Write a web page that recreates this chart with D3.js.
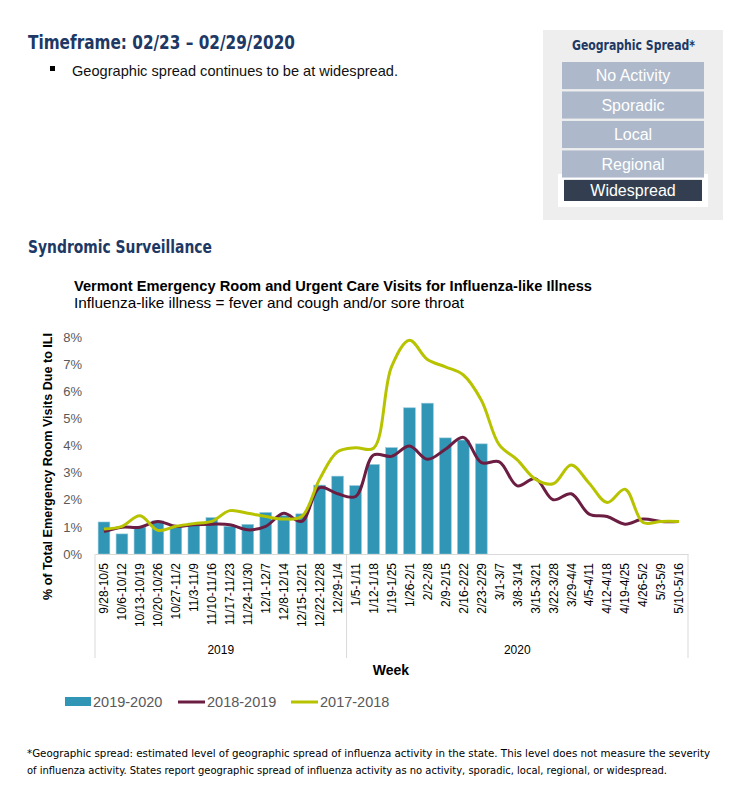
<!DOCTYPE html>
<html lang="en">
<head>
    <meta charset="UTF-8">
    <title>Vermont ILI Visits</title>
    <script src="https://d3js.org/d3.v7.min.js"></script>
    <style>
        body { margin: 0; background: #fff; }
        svg text { font-family: "Liberation Sans", Arial, sans-serif; }
        .cond { font-family: "Liberation Sans Narrow", "DejaVu Sans Condensed", "Liberation Sans", sans-serif; font-stretch: condensed; }
        .navy { fill: #203864; font-weight: bold; }
    </style>
</head>
<body>
    <div id="chart"></div>
    <script type="text/javascript">
        // week categories on the x axis
        const weeks = ["9/28-10/5", "10/6-10/12", "10/13-10/19", "10/20-10/26", "10/27-11/2", "11/3-11/9",
            "11/10-11/16", "11/17-11/23", "11/24-11/30", "12/1-12/7", "12/8-12/14", "12/15-12/21",
            "12/22-12/28", "12/29-1/4", "1/5-1/11", "1/12-1/18", "1/19-1/25", "1/26-2/1", "2/2-2/8",
            "2/9-2/15", "2/16-2/22", "2/23-2/29", "3/1-3/7", "3/8-3/14", "3/15-3/21", "3/22-3/28",
            "3/29-4/4", "4/5-4/11", "4/12-4/18", "4/19-4/25", "4/26-5/2", "5/3-5/9", "5/10-5/16"];
        const yearLabels = ["2019", "2020"];
        const yearWeekCounts = [14, 19];

        // % of visits due to ILI
        const season2019_2020 = [1.18, 0.74, 0.99, 1.22, 1.05, 1.14, 1.34, 1.02, 1.09, 1.53, 1.41, 1.48,
            2.54, 2.87, 2.52, 3.30, 3.92, 5.39, 5.56, 4.28, 4.20, 4.06];
        const season2018_2019 = [0.83, 0.99, 0.99, 1.20, 1.02, 1.08, 1.10, 1.08, 0.89, 1.02, 1.50, 1.20,
            2.45, 2.22, 2.12, 3.65, 3.60, 3.98, 3.49, 3.86, 4.30, 3.37, 3.40, 2.51, 2.78, 2.00, 2.22,
            1.47, 1.38, 1.10, 1.29, 1.20, 1.20];
        const season2017_2018 = [0.92, 1.02, 1.41, 0.87, 1.02, 1.12, 1.20, 1.60, 1.50, 1.38, 1.29, 1.38,
            2.76, 3.77, 3.92, 3.90, 6.90, 7.88, 7.17, 6.90, 6.60, 5.67, 4.02, 3.47, 2.76, 2.59, 3.28,
            2.61, 1.90, 2.39, 1.16, 1.20, 1.20];
        const yTicks = [0, 1, 2, 3, 4, 5, 6, 7, 8];

        const spreadLevels = ["No Activity", "Sporadic", "Local", "Regional", "Widespread"];
        const currentLevel = "Widespread";

        const barColor = "#3196b6", maroon = "#6b1d42", lime = "#b8c300";

        const svg = d3.select("#chart").append("svg")
            .attr("width", 736)
            .attr("height", 796);

        // header
        svg.append("text").attr("class", "cond navy")
            .attr("x", 28).attr("y", 49).style("font-size", "20px")
            .attr("textLength", 267).attr("lengthAdjust", "spacingAndGlyphs")
            .text("Timeframe: 02/23 \u2013 02/29/2020");
        svg.append("rect").attr("x", 50).attr("y", 66).attr("width", 5).attr("height", 5).attr("fill", "#000");
        svg.append("text").attr("x", 72).attr("y", 76).style("font-size", "14.5px").attr("fill", "#111")
            .attr("textLength", 326).attr("lengthAdjust", "spacingAndGlyphs")
            .text("Geographic spread continues to be at widespread.");

        // geographic spread box
        svg.append("rect").attr("x", 543).attr("y", 30).attr("width", 180).attr("height", 190).attr("fill", "#eeeeee");
        svg.append("text").attr("class", "cond navy")
            .attr("x", 572).attr("y", 50).style("font-size", "14px")
            .attr("textLength", 123).attr("lengthAdjust", "spacingAndGlyphs")
            .text("Geographic Spread*");
        const ly = d3.scaleBand().domain(spreadLevels).range([62, 207]).paddingInner(0.08);
        svg.append("rect").attr("x", 558).attr("y", ly(currentLevel) - 6)
            .attr("width", 150).attr("height", ly.bandwidth() + 6).attr("fill", "#fff");
        spreadLevels.forEach(function(lv) {
            const cur = lv === currentLevel;
            svg.append("rect")
                .attr("x", cur ? 564 : 562).attr("y", ly(lv))
                .attr("width", cur ? 138 : 142).attr("height", cur ? ly.bandwidth() - 6 : ly.bandwidth())
                .attr("fill", cur ? "#333f50" : "#adb9ca");
            svg.append("text")
                .attr("x", 633).attr("y", ly(lv) + (cur ? ly.bandwidth() / 2 - 3 : ly.bandwidth() / 2))
                .attr("dy", "0.36em").attr("text-anchor", "middle")
                .style("font-size", "16px").attr("fill", "#fff")
                .text(lv);
        });

        svg.append("text").attr("class", "cond navy")
            .attr("x", 28).attr("y", 253).style("font-size", "18px")
            .attr("textLength", 184).attr("lengthAdjust", "spacingAndGlyphs")
            .text("Syndromic Surveillance");

        // chart titles
        svg.append("text").attr("x", 74).attr("y", 291).style("font-size", "15px").style("font-weight", "bold")
            .attr("fill", "#000").attr("textLength", 518).attr("lengthAdjust", "spacingAndGlyphs")
            .text("Vermont Emergency Room and Urgent Care Visits for Influenza-like Illness");
        svg.append("text").attr("x", 74).attr("y", 308).style("font-size", "15px")
            .attr("fill", "#000").attr("textLength", 390).attr("lengthAdjust", "spacingAndGlyphs")
            .text("Influenza-like illness = fever and cough and/or sore throat");

        // scales
        const x = d3.scaleBand().domain(weeks).range([95, 688]).paddingInner(0.35).paddingOuter(0.175);
        const y = d3.scaleLinear().domain([0, 8]).range([554, 337]);
        const cx = function(i) { return x(weeks[i]) + x.bandwidth() / 2; };

        // y axis
        const yAxis = svg.append("g").attr("transform", "translate(95,0)")
            .call(d3.axisLeft(y).tickValues(yTicks).tickFormat(function(d) { return d + "%"; }).tickSize(0).tickPadding(13));
        yAxis.select(".domain").remove();
        yAxis.selectAll("text").style("font-size", "13px").attr("fill", "#595959")
            .style("font-family", "'Liberation Sans', Arial, sans-serif");

        svg.append("text")
            .attr("transform", "translate(52," + ((333 + 600) / 2) + ") rotate(-90)")
            .attr("text-anchor", "middle").style("font-size", "13px").style("font-weight", "bold")
            .attr("fill", "#000").attr("textLength", 267).attr("lengthAdjust", "spacingAndGlyphs")
            .text("% of Total Emergency Room Visits Due to ILI");

        // bars
        svg.selectAll(".bar")
            .data(season2019_2020)
            .enter().append("rect")
            .attr("class", "bar")
            .attr("x", function(d, i) { return x(weeks[i]); })
            .attr("y", function(d) { return y(d); })
            .attr("width", x.bandwidth())
            .attr("height", function(d) { return y(0) - y(d); })
            .attr("fill", barColor)
            .attr("stroke", "#8fc6d8").attr("stroke-width", 0.6);

        // x axis
        const xAxis = svg.append("g").attr("transform", "translate(0,554)")
            .call(d3.axisBottom(x).tickSize(0).tickPadding(0));
        xAxis.select(".domain").attr("stroke", "#d9d9d9");
        xAxis.selectAll("text")
            .attr("transform", "rotate(-90)")
            .attr("x", -9).attr("y", 0).attr("dy", "0.36em")
            .style("text-anchor", "end").style("font-size", "12px")
            .style("font-family", "'Liberation Sans', Arial, sans-serif")
            .attr("fill", "#000");

        // year group separators and labels
        let start = 0;
        const step = x.step();
        const x0 = x.range()[0];
        svg.append("line").attr("x1", x0).attr("x2", x0).attr("y1", 554).attr("y2", 658).attr("stroke", "#d9d9d9");
        yearLabels.forEach(function(lbl, k) {
            const a = x0 + step * start;
            const b = x0 + step * (start + yearWeekCounts[k]);
            svg.append("line").attr("x1", b).attr("x2", b).attr("y1", 554).attr("y2", 658).attr("stroke", "#d9d9d9");
            svg.append("text").attr("x", (a + b) / 2).attr("y", 654).attr("text-anchor", "middle")
                .style("font-size", "12px").attr("fill", "#000").text(lbl);
            start += yearWeekCounts[k];
        });
        svg.append("text").attr("x", 391).attr("y", 675).attr("text-anchor", "middle")
            .style("font-size", "14px").style("font-weight", "bold").attr("fill", "#000").text("Week");

        // lines
        const line = d3.line()
            .x(function(d, i) { return cx(i); })
            .y(function(d) { return y(d); })
            .curve(d3.curveCatmullRom.alpha(0.5));

        svg.append("path").datum(season2018_2019)
            .attr("d", line).attr("fill", "none").attr("stroke", maroon).attr("stroke-width", 3);
        svg.append("path").datum(season2017_2018)
            .attr("d", line).attr("fill", "none").attr("stroke", lime).attr("stroke-width", 3);

        // legend
        const legend = svg.append("g").attr("transform", "translate(65,702)");
        legend.append("rect").attr("x", 0).attr("y", -5).attr("width", 26).attr("height", 9).attr("fill", barColor);
        legend.append("text").attr("x", 28).attr("y", 0).attr("dy", "0.35em").style("font-size", "14.5px")
            .attr("fill", "#595959").text("2019-2020");
        legend.append("line").attr("x1", 113).attr("x2", 140).attr("y1", 0).attr("y2", 0)
            .attr("stroke", maroon).attr("stroke-width", 3);
        legend.append("text").attr("x", 142).attr("y", 0).attr("dy", "0.35em").style("font-size", "14.5px")
            .attr("fill", "#595959").text("2018-2019");
        legend.append("line").attr("x1", 226).attr("x2", 253).attr("y1", 0).attr("y2", 0)
            .attr("stroke", lime).attr("stroke-width", 3);
        legend.append("text").attr("x", 255).attr("y", 0).attr("dy", "0.35em").style("font-size", "14.5px")
            .attr("fill", "#595959").text("2017-2018");

        // footnote
        svg.append("text").attr("class", "cond").attr("x", 27).attr("y", 757).style("font-size", "11px")
            .attr("fill", "#000").attr("textLength", 683).attr("lengthAdjust", "spacingAndGlyphs")
            .text("*Geographic spread: estimated level of geographic spread of influenza activity in the state. This level does not measure the severity");
        svg.append("text").attr("class", "cond").attr("x", 27).attr("y", 774).style("font-size", "11px")
            .attr("fill", "#000").attr("textLength", 640).attr("lengthAdjust", "spacingAndGlyphs")
            .text("of influenza activity.  States report geographic spread of influenza activity as no activity, sporadic, local, regional, or widespread.");
    </script>
</body>
</html>
